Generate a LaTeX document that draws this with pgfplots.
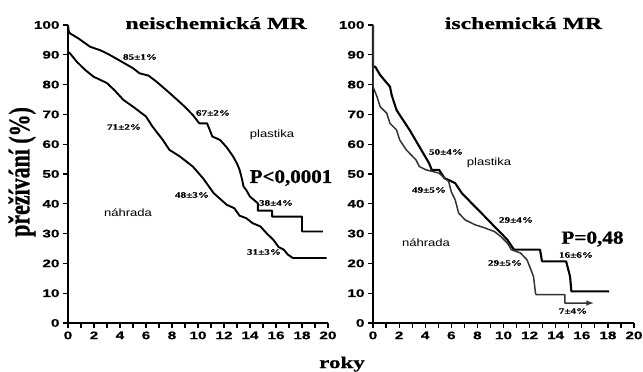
\documentclass[border=0pt]{standalone}
\usepackage{graphicx}
\usepackage{fontspec}
\usepackage{pgfplots}
\pgfplotsset{compat=1.18}
\setmainfont{Liberation Serif}
\newfontfamily\tickfont[FakeStretch=1.4, FakeBold=0.6]{Liberation Sans}
\newfontfamily\serw[FakeStretch=1.4, FakeBold=0.8]{Liberation Serif}
\newfontfamily\sers[FakeStretch=1.35, FakeBold=0.4]{Liberation Serif}
\newfontfamily\serb[FakeBold=1]{Liberation Serif}
\newfontfamily\sansw[FakeStretch=1.25]{Liberation Sans}
\pgfplotsset{km/.style={
  scale only axis, height=298bp,
  xmin=0, xmax=20, ymin=0, ymax=100,
  axis lines=left, axis line style={-, line width=1.5bp, black},
  tick align=outside, major tick length=5bp, minor tick length=5bp,
  tick style={line width=1.2bp, black},
  xtick={0,2,...,20}, minor xtick={1,3,...,19}, ytick={0,10,...,100},
  tick label style={font=\tickfont\bfseries\fontsize{11}{13}\selectfont, black},
  /pgf/number format/assume math mode=true,
  clip=false,
  every axis plot/.append style={line join=round, black}
}}
\begin{document}
\begin{tikzpicture}
\path[use as bounding box] (0,0) rectangle (643bp,372bp);
\begin{axis}[km, at={(68bp,49bp)}, anchor=origin, width=260bp]
\addplot[line width=1.9bp] coordinates {
(0,100) (0.05,98) (0.15,97.2) (0.8,95.5) (1.7,92.7) (2.5,91.5) (3.2,90) (4.2,87.5) (5.0,85.5) (5.5,83.8) (6.2,83) (6.8,81) (7.6,78) (8.4,74.9) (9.0,72.5) (9.6,69.8) (10.1,67) (10.7,67) (11.1,62.6) (11.7,61.4) (12.2,59) (12.7,55.9) (13.0,53.5) (13.2,51.4) (13.4,48) (13.5,45.8) (13.7,44.7) (14.0,42.4) (14.6,40.2) (14.6,37.7) (15.7,37.7) (15.7,35.7) (18.0,35.7) (18.0,30.7) (19.6,30.7)};
\addplot[line width=1.9bp] coordinates {
(0,100) (0,91) (0.15,90.5) (0.67,87.7) (1.3,85) (1.95,82.7) (3.0,80.5) (3.6,78) (4.25,74.9) (5.0,72.6) (6.0,69.3) (6.5,65.9) (7.3,61.4) (7.8,58.1) (8.6,55.9) (9.6,52.5) (10.4,48.5) (11.2,43.6) (12.2,39.7) (12.8,38.5) (13.2,36) (13.7,35.2) (14.2,33.5) (14.8,32.4) (15.3,30) (15.8,27.9) (16.2,25.5) (16.6,24.6) (16.9,23) (17.3,21.8) (19.9,21.8)};
\end{axis}
\begin{axis}[km, at={(373bp,49bp)}, anchor=origin, width=261bp]
\addplot[line width=2.1bp] coordinates {
(0,100) (0,86) (0.17,86) (0.55,83.2) (1.3,79.3) (1.43,76.5) (1.8,71.5) (2.05,69.8) (2.8,64.8) (3.55,59.2) (4.3,53.6) (4.5,51.4) (5.06,51.4) (5.5,48.5) (5.8,48) (6.3,46.9) (6.8,43.6) (7.56,40.2) (8.57,35.7) (9.3,32.4) (9.8,30.2) (10.3,27.9) (10.8,24.6) (12.8,24.6) (12.95,20.7) (14.8,20.7) (15.1,15.6) (15.2,10.6) (18.1,10.6)};
\addplot[line width=1.5bp, black!80, -latex] coordinates {
(0,100) (0,79.3) (0.3,76) (0.55,72.6) (1.05,70.4) (1.3,67) (1.8,64.8) (2.05,61.4) (2.55,58.1) (3.3,54.7) (3.55,52.5) (4.06,51.4) (5.06,50.3) (5.5,48.5) (5.8,47.5) (6.0,44) (6.3,41.3) (6.56,36.9) (7.06,34.6) (7.8,33) (8.57,31.9) (9.3,30.7) (9.8,29) (10.3,26.8) (10.6,24.6) (11.3,23.5) (11.8,21.2) (12.1,17.9) (12.3,15.6) (12.45,10.1) (12.5,9.5) (14.7,9.5) (14.7,6.7) (16.9,6.7)};
\end{axis}
% titles
\node[anchor=base, font=\serw\bfseries\fontsize{17}{19}\selectfont] at (216bp,343bp) {neischemická MR};
\node[anchor=base, font=\serw\bfseries\fontsize{17}{19}\selectfont] at (523.5bp,343bp) {ischemická MR};
\node[rotate=90, font=\serb\bfseries\fontsize{22}{24}\selectfont] at (22bp,200bp) {\scalebox{1}[1.35]{přežívání (\%)}};
\node[anchor=base, font=\serw\bfseries\fontsize{16.5}{18}\selectfont] at (342bp,4bp) {roky};
% small labels
\begin{scope}[every node/.style={font=\sers\bfseries\fontsize{8.3}{9}\selectfont, inner sep=0pt}]
\node at (140bp,315bp) {85±1\%};
\node at (213bp,259bp) {67±2\%};
\node at (124bp,245bp) {71±2\%};
\node at (192bp,177bp) {48±3\%};
\node at (276bp,169bp) {38±4\%};
\node at (264bp,120bp) {31±3\%};
\node at (446bp,220bp) {50±4\%};
\node at (429bp,182bp) {49±5\%};
\node at (516bp,152bp) {29±4\%};
\node at (576bp,117bp) {16±6\%};
\node at (505bp,109bp) {29±5\%};
\node at (573bp,61bp) {7±4\%};
\end{scope}
\begin{scope}[every node/.style={font=\sansw\fontsize{10.5}{12}\selectfont, inner sep=0pt}]
\node at (272bp,237bp) {plastika};
\node at (128bp,159bp) {náhrada};
\node at (489bp,209bp) {plastika};
\node at (426bp,129bp) {náhrada};
\end{scope}
\node[font=\serb\bfseries\fontsize{19.5}{21}\selectfont, inner sep=0pt] at (291bp,194bp) {\scalebox{1.08}[1]{P<0,0001}};
\node[font=\serb\bfseries\fontsize{18.5}{20}\selectfont, inner sep=0pt] at (592.5bp,133bp) {\scalebox{1.15}[1]{P=0,48}};
\end{tikzpicture}
\end{document}
